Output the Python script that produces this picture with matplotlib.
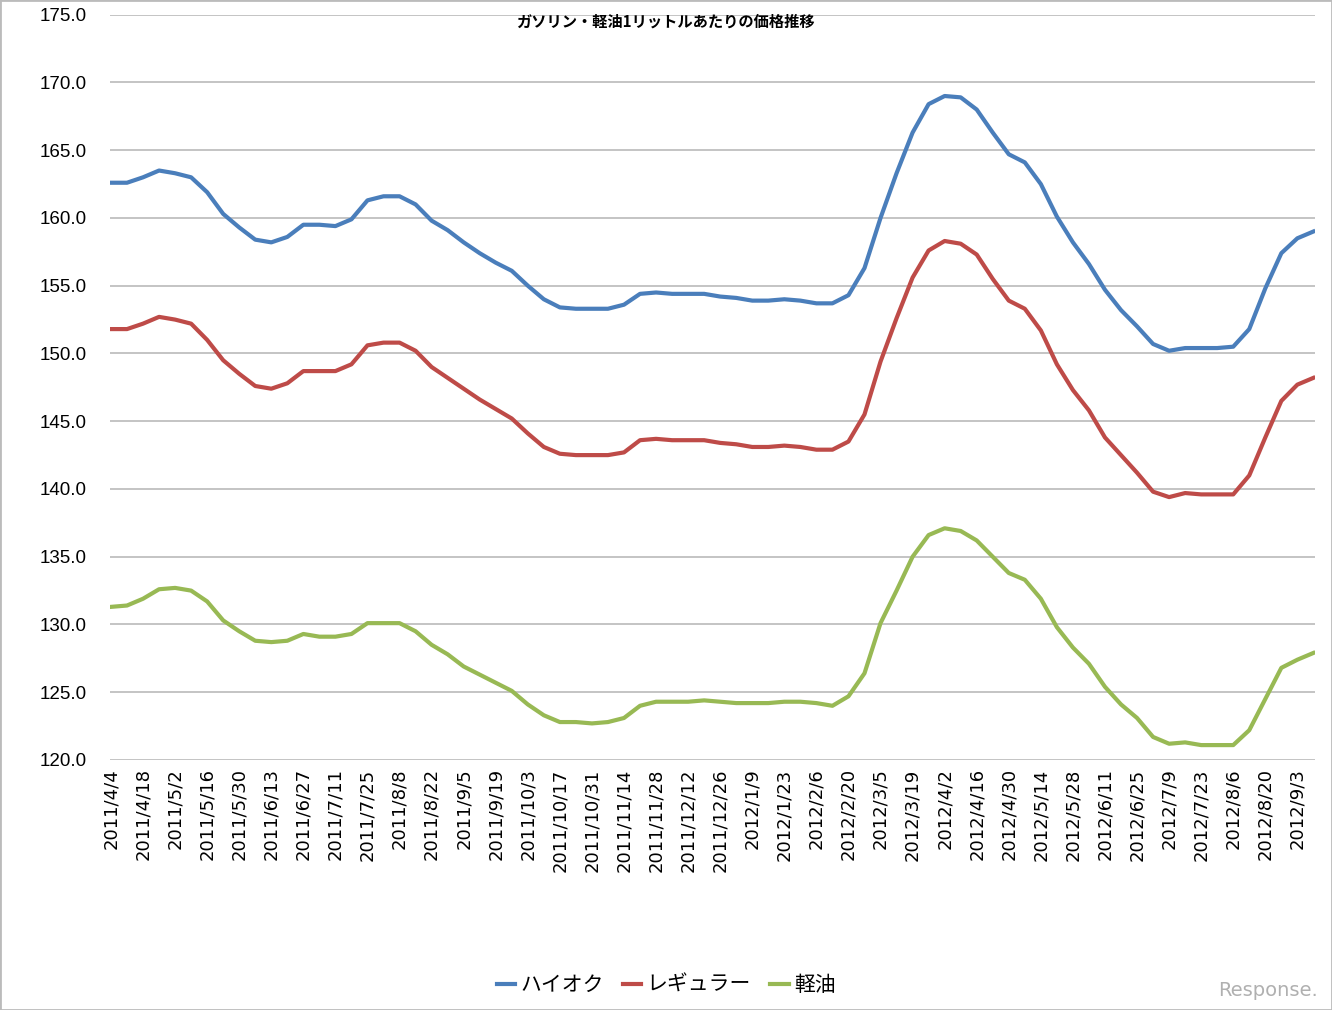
import matplotlib
matplotlib.use("Agg")
import matplotlib.pyplot as plt
import numpy as np
import pandas as pd
from matplotlib.patches import Rectangle

# weekly survey dates, 2011/4/4 .. 2012/9/10
dates = pd.date_range("2011-04-04", periods=76, freq="7D")
tick_labels = [f"{d.year}/{d.month}/{d.day}" for d in dates]

high_octane = [
    162.6, 162.6, 163.0, 163.5, 163.3, 163.0, 161.9, 160.3, 159.3, 158.4,
    158.2, 158.6, 159.5, 159.5, 159.4, 159.9, 161.3, 161.6, 161.6, 161.0,
    159.8, 159.1, 158.2, 157.4, 156.7, 156.1, 155.0, 154.0, 153.4, 153.3,
    153.3, 153.3, 153.6, 154.4, 154.5, 154.4, 154.4, 154.4, 154.2, 154.1,
    153.9, 153.9, 154.0, 153.9, 153.7, 153.7, 154.3, 156.3, 160.0, 163.3,
    166.3, 168.4, 169.0, 168.9, 168.0, 166.3, 164.7, 164.1, 162.5, 160.1,
    158.2, 156.6, 154.7, 153.2, 152.0, 150.7, 150.2, 150.4, 150.4, 150.4,
    150.5, 151.8, 154.8, 157.4, 158.5, 159.0,
]
regular = [
    151.8, 151.8, 152.2, 152.7, 152.5, 152.2, 151.0, 149.5, 148.5, 147.6,
    147.4, 147.8, 148.7, 148.7, 148.7, 149.2, 150.6, 150.8, 150.8, 150.2,
    149.0, 148.2, 147.4, 146.6, 145.9, 145.2, 144.1, 143.1, 142.6, 142.5,
    142.5, 142.5, 142.7, 143.6, 143.7, 143.6, 143.6, 143.6, 143.4, 143.3,
    143.1, 143.1, 143.2, 143.1, 142.9, 142.9, 143.5, 145.5, 149.4, 152.6,
    155.6, 157.6, 158.3, 158.1, 157.3, 155.5, 153.9, 153.3, 151.7, 149.2,
    147.3, 145.8, 143.8, 142.5, 141.2, 139.8, 139.4, 139.7, 139.6, 139.6,
    139.6, 141.0, 143.8, 146.5, 147.7, 148.2,
]
diesel = [
    131.3, 131.4, 131.9, 132.6, 132.7, 132.5, 131.7, 130.3, 129.5, 128.8,
    128.7, 128.8, 129.3, 129.1, 129.1, 129.3, 130.1, 130.1, 130.1, 129.5,
    128.5, 127.8, 126.9, 126.3, 125.7, 125.1, 124.1, 123.3, 122.8, 122.8,
    122.7, 122.8, 123.1, 124.0, 124.3, 124.3, 124.3, 124.4, 124.3, 124.2,
    124.2, 124.2, 124.3, 124.3, 124.2, 124.0, 124.7, 126.4, 130.1, 132.5,
    135.0, 136.6, 137.1, 136.9, 136.2, 135.0, 133.8, 133.3, 131.9, 129.8,
    128.3, 127.1, 125.4, 124.1, 123.1, 121.7, 121.2, 121.3, 121.1, 121.1,
    121.1, 122.2, 124.5, 126.8, 127.4, 127.9,
]
series_names = ["ハイオク", "レギュラー", "軽油"]
colors = ["#4a7ebb", "#be4b48", "#98b954"]
title = "ガソリン・軽油1リットルあたりの価格推移"

jp_font = ["Noto Sans CJK JP", "DejaVu Sans"]

fig = plt.figure(figsize=(13.32, 10.10), dpi=100)
ax = fig.add_axes([110 / 1332, 1 - 760 / 1010, 1205 / 1332, 745.3 / 1010])

x = np.arange(len(dates))
for vals, name, c in zip([high_octane, regular, diesel], series_names, colors):
    ax.plot(x, vals, color=c, lw=3, label=name, solid_joinstyle="round")

ax.set_ylim(120, 175)
ax.set_yticks(np.arange(120, 175.1, 5))
ax.set_yticklabels([f"{v:.1f}" for v in np.arange(120, 175.1, 5)],
                   fontsize=13.5, family="Liberation Sans")
ax.set_xlim(-0.06, 75.1)
ax.set_xticks(x[::2])
ax.set_xticklabels(tick_labels[::2], rotation=90, fontsize=13,
                   family="DejaVu Sans")
ax.tick_params(axis="both", length=0)
ax.tick_params(axis="y", pad=17)
ax.tick_params(axis="x", pad=6)
ax.grid(axis="y", color="#bfbfbf", lw=1.3)
ax.set_axisbelow(True)
for s in ax.spines.values():
    s.set_visible(False)

fig.text(665 / 1332, 1 - 22 / 1010, title, ha="center", va="center",
         fontsize=11, fontweight="bold", family=jp_font)

leg = fig.legend(loc="center", bbox_to_anchor=(0.5, 1 - 985 / 1010), ncol=3,
                 frameon=False, handlelength=0.9, handletextpad=0.25,
                 columnspacing=0.9, prop={"family": jp_font, "size": 15})

fig.text(1318 / 1332, 1 - 990 / 1010, "Response.", ha="right", va="center",
         fontsize=14, color="#b0b0b0", family="DejaVu Sans")

fig.patches.append(Rectangle((0, 0), 1, 1, transform=fig.transFigure,
                             fill=False, edgecolor="#bbbbbb", lw=2))

fig.savefig("out.png", dpi=100)
